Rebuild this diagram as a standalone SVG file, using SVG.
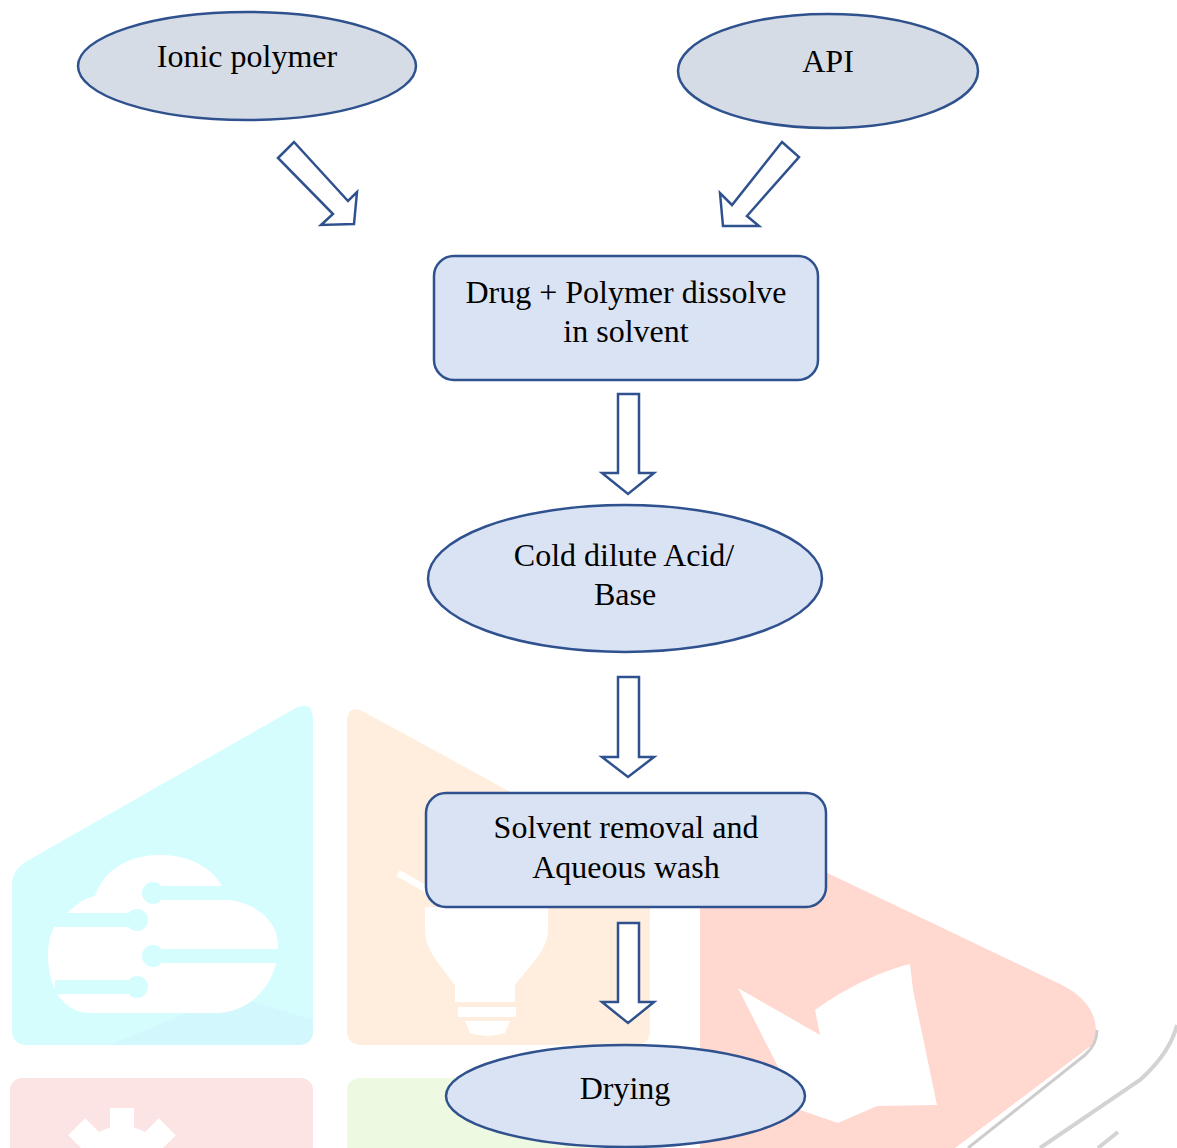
<svg xmlns="http://www.w3.org/2000/svg" width="1177" height="1148" viewBox="0 0 1177 1148">
<style>
.node{stroke:#2f528f;stroke-width:2.5}
.n1{fill:#d6dce5}
.n2{fill:#dae3f3}
.arr{fill:#ffffff;stroke:#2f528f;stroke-width:2.5;stroke-linejoin:miter}
.t{font-family:"Liberation Serif","Times New Roman",serif;font-size:32px;fill:#000;text-anchor:middle}
.wm{stroke:none}
</style>
<rect width="1177" height="1148" fill="#ffffff"/>
<g id="watermark">
  <path class="wm" fill="#d5fdfe" d="M12 885 Q12 870 27 861 L294 709 Q313 699 313 720 L313 1030 Q313 1045 298 1045 L27 1045 Q12 1045 12 1030 Z"/>
  <path class="wm" fill="#d0f3fc" d="M230 995 L313 1020 L313 1030 Q313 1045 298 1045 L110 1045 Z" opacity="0.6"/>
  <path class="wm" fill="#ffffff" d="M63 917 C75 905 85 898 95 896 C105 868 130 855 160 855 C190 855 212 868 222 886 L230 900 C262 905 278 925 278 945 C278 985 250 1013 215 1013 L90 1013 C65 1013 48 990 48 955 C48 935 55 922 63 917 Z"/>
  <g fill="#d5fdfe">
    <rect x="153" y="886" width="80" height="14"/><circle cx="153" cy="893" r="11"/>
    <rect x="40" y="913" width="97" height="14"/><circle cx="137" cy="920" r="11"/>
    <rect x="153" y="949" width="130" height="14"/><circle cx="153" cy="956" r="11"/>
    <rect x="55" y="980" width="82" height="14"/><circle cx="137" cy="987" r="11"/>
  </g>
  <path class="wm" fill="#ffeddd" d="M347 724 Q347 703 364 712 L650 868 L650 1030 Q650 1045 635 1045 L362 1045 Q347 1045 347 1030 Z"/>
  <path class="wm" fill="#ffffff" d="M425 907 L425 930 C425 950 440 965 455 985 L455 1002 L515 1002 L515 985 C530 965 548 950 548 930 L548 907 Z"/>
  <rect class="wm" fill="#ffffff" x="458" y="1007" width="58" height="10"/>
  <path class="wm" fill="#ffffff" d="M465 1021 L510 1021 L505 1033 Q487 1039 470 1033 Z"/>
  <line x1="398" y1="873" x2="428" y2="890" stroke="#ffffff" stroke-width="7"/>
  <path class="wm" fill="#ffd8d0" d="M700 812 L1062 985 C1092 1000 1102 1025 1092 1045 L955 1148 L700 1148 Z"/>
  <path class="wm" fill="#ffffff" d="M738 988 L820 1035 L815 1010 C850 985 885 970 910 964 L913 990 L937 1105 L877 1106 L838 1123 L800 1110 Z"/>
  <path d="M1097 1030 C1097 1040 1093 1048 1085 1055 L968 1148" fill="none" stroke="#cdcdcd" stroke-width="3"/>
  <path d="M1177 1025 C1172 1045 1160 1062 1140 1080 L1040 1148" fill="none" stroke="#d3d3d3" stroke-width="4"/>
  <path d="M1118 1132 L1098 1148" fill="none" stroke="#d3d3d3" stroke-width="4"/>
  <rect class="wm" fill="#fde4e4" x="10" y="1078" width="303" height="80" rx="12"/>
  <g fill="#ffffff">
    <circle cx="122" cy="1172" r="46"/>
    <rect x="110" y="1108" width="24" height="20"/>
    <rect x="110" y="1108" width="24" height="20" transform="rotate(-45 122 1172)"/>
    <rect x="110" y="1108" width="24" height="20" transform="rotate(45 122 1172)"/>
  </g>
  <circle cx="122" cy="1172" r="22" fill="#fde4e4"/>
  <rect class="wm" fill="#eef9e2" x="347" y="1078" width="303" height="80" rx="12"/>
</g>
<g id="connectors">
  <polygon class="arr" points="278,158 294,142 348,201 357,192 354,224 321,225 333,214"/>
  <polygon class="arr" points="782,142 799,157 747,216 759,226 723,226 720,193 732,205"/>
  <polygon class="arr" points="618,394 639,394 639,473 654,473 628,494 602,473 618,473"/>
  <polygon class="arr" points="618,677 639,677 639,757 654,757 628,777 602,757 618,757"/>
  <polygon class="arr" points="618,923 639,923 639,1002 654,1002 628,1023 602,1002 618,1002"/>
</g>
<g id="node-ionic-polymer">
  <ellipse class="node n1" cx="247" cy="66" rx="169" ry="54"/>
  <text class="t" x="247" y="67">Ionic polymer</text>
</g>
<g id="node-api">
  <ellipse class="node n1" cx="828" cy="71" rx="150" ry="57"/>
  <text class="t" x="828" y="72">API</text>
</g>
<g id="node-dissolve">
  <rect class="node n2" x="434" y="256" width="384" height="124" rx="20"/>
  <text class="t" x="626" y="303">Drug + Polymer dissolve</text>
  <text class="t" x="626" y="342">in solvent</text>
</g>
<g id="node-acid-base">
  <ellipse class="node n2" cx="625" cy="578.5" rx="197" ry="73.5"/>
  <text class="t" x="624" y="566">Cold dilute Acid/</text>
  <text class="t" x="625" y="605">Base</text>
</g>
<g id="node-solvent-removal">
  <rect class="node n2" x="426" y="793" width="400" height="114" rx="20"/>
  <text class="t" x="626" y="838">Solvent removal and</text>
  <text class="t" x="626" y="878">Aqueous wash</text>
</g>
<g id="node-drying">
  <ellipse class="node n2" cx="625.5" cy="1096" rx="179.5" ry="51"/>
  <text class="t" x="625" y="1099">Drying</text>
</g>
</svg>
